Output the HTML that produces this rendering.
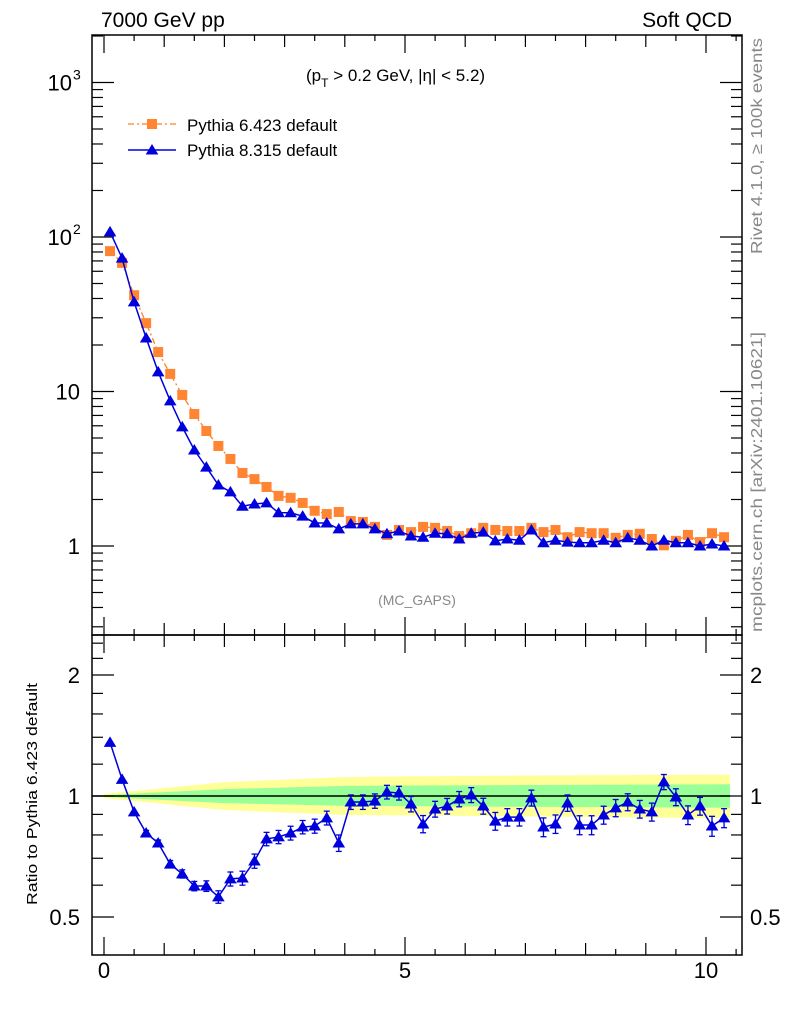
<!DOCTYPE html>
<html><head><meta charset="utf-8"><style>
body{margin:0;background:#fff}
svg{display:block;font-family:"Liberation Sans",sans-serif}
</style></head><body>
<svg id="c" width="786" height="1024" viewBox="0 0 786 1024"></svg>
<script>
const binCenters=[0.1,0.3,0.5,0.7,0.9,1.1,1.3,1.5,1.7,1.9,2.1,2.3,2.5,2.7,2.9,3.1,3.3,3.5,3.7,3.9,4.1,4.3,4.5,4.7,4.9,5.1,5.3,5.5,5.7,5.9,6.1,6.3,6.5,6.7,6.9,7.1,7.3,7.5,7.7,7.9,8.1,8.3,8.5,8.7,8.9,9.1,9.3,9.5,9.7,9.9,10.1,10.3];
const py6=[81,68,42,27.7,18.0,13.0,9.5,7.15,5.55,4.44,3.66,2.97,2.71,2.41,2.11,2.05,1.90,1.69,1.61,1.66,1.45,1.43,1.33,1.18,1.27,1.23,1.33,1.31,1.25,1.16,1.21,1.31,1.27,1.25,1.25,1.31,1.23,1.27,1.14,1.23,1.21,1.21,1.13,1.18,1.20,1.11,1.01,1.08,1.18,1.06,1.21,1.14];
const py8=[108,73,38,22.2,13.4,8.7,5.9,4.18,3.24,2.48,2.24,1.81,1.87,1.90,1.64,1.64,1.56,1.41,1.41,1.29,1.39,1.39,1.29,1.20,1.25,1.16,1.14,1.21,1.20,1.11,1.21,1.23,1.08,1.11,1.09,1.27,1.05,1.09,1.06,1.05,1.05,1.09,1.05,1.13,1.09,1.0,1.09,1.05,1.05,1.0,1.03,1.0];
const ratio8=[1.36,1.10,0.913,0.809,0.764,0.677,0.640,0.597,0.597,0.561,0.622,0.625,0.689,0.782,0.791,0.809,0.837,0.842,0.882,0.764,0.966,0.966,0.972,1.023,1.017,0.955,0.852,0.928,0.944,0.983,1.006,0.944,0.866,0.886,0.886,0.989,0.837,0.852,0.961,0.847,0.847,0.897,0.934,0.966,0.928,0.913,1.084,0.994,0.897,0.944,0.842,0.882];
const ratioErr=[0.01,0.01,0.012,0.012,0.013,0.014,0.015,0.016,0.018,0.02,0.025,0.025,0.028,0.03,0.03,0.032,0.032,0.034,0.035,0.036,0.04,0.04,0.04,0.04,0.04,0.042,0.042,0.042,0.042,0.043,0.043,0.043,0.044,0.044,0.044,0.045,0.045,0.045,0.045,0.046,0.046,0.046,0.046,0.047,0.047,0.047,0.047,0.048,0.048,0.048,0.048,0.048];
const bandX=[0,2,4,7,10.4];
const yellowHi=[1.012,1.083,1.115,1.125,1.13];
const yellowLo=[0.988,0.923,0.897,0.89,0.88];
const greenHi=[1.005,1.04,1.06,1.065,1.07];
const greenLo=[0.995,0.96,0.945,0.94,0.935];
const xTicks=[0,5,10];
const mainTicks=[{v:1000,t:"10",s:"3"},{v:100,t:"10",s:"2"},{v:10,t:"10",s:""},{v:1,t:"1",s:""}];
const ratioTicks=[2,1,0.5];

const NS="http://www.w3.org/2000/svg",svg=document.getElementById('c');
function el(tag,attrs,parent,text){const e=document.createElementNS(NS,tag);for(const k in attrs)e.setAttribute(k,attrs[k]);if(text!==undefined)e.textContent=text;(parent||svg).appendChild(e);return e;}
const L=92,R=742,T1=35,B1=635,B2=955;
const X=v=>104+(v)*60.2;
const Y1=v=>546-154.5*Math.log10(v);
const Y2=v=>796-121*Math.log2(v);

function band(hi,lo,fill,name){let d="M"+X(bandX[0])+","+Y2(hi[0]);for(let i=1;i<bandX.length;i++)d+="L"+X(bandX[i])+","+Y2(hi[i]);for(let i=bandX.length-1;i>=0;i--)d+="L"+X(bandX[i])+","+Y2(lo[i]);d+="Z";const p=el('path',{d:d,fill:fill});

}
band(yellowHi,yellowLo,'#ffff99','yellow-uncertainty-band');
band(greenHi,greenLo,'#99ff99','green-uncertainty-band');
const ref=el('line',{x1:X(-0.2),x2:X(10.4),y1:Y2(1),y2:Y2(1),stroke:'#000','stroke-width':1.5});



for(const [t,b,n] of [[T1,B1,'main-frame'],[B1,B2,'ratio-frame']]){const r=el('rect',{x:L,y:t,width:R-L,height:b-t,fill:'none',stroke:'#000','stroke-width':1.5});

}

for(const [t,b] of [[T1,B1],[B1,B2]]){for(let v=0;v<=10.5;v+=0.5){const maj=Number.isInteger(v);const len=(v%5===0)?18:(maj?12:6);el('line',{x1:X(v),x2:X(v),y1:b,y2:b-len,stroke:'#000','stroke-width':1.2});el('line',{x1:X(v),x2:X(v),y1:t,y2:t+len,stroke:'#000','stroke-width':1.2});}}
xTicks.forEach(v=>{const t=el('text',{x:X(v),y:978,'font-size':22,'text-anchor':'middle'},svg,String(v));

});

for(let d=-1;d<4;d++){for(let m=1;m<10;m++){const v=m*Math.pow(10,d);const y=Y1(v);if(y<T1||y>B1)continue;const len=m===1?22:11;el('line',{x1:L,x2:L+len,y1:y,y2:y,stroke:'#000','stroke-width':1.2});el('line',{x1:R,x2:R-len,y1:y,y2:y,stroke:'#000','stroke-width':1.2});}}
mainTicks.forEach(o=>{const t=el('text',{x:o.s?72:80,y:Y1(o.v)+8,'font-size':22,'text-anchor':'end'},svg,o.t);


if(o.s)el('text',{x:73,y:Y1(o.v)-3,'font-size':14},svg,o.s);});
[0.5,0.6,0.7,0.8,0.9,1,1.2,1.4,1.6,1.8,2,2.2,2.4].forEach(v=>{const y=Y2(v);const len=(v===0.5||v===1||v===2)?22:11;el('line',{x1:L,x2:L+len,y1:y,y2:y,stroke:'#000','stroke-width':1.2});el('line',{x1:R,x2:R-len,y1:y,y2:y,stroke:'#000','stroke-width':1.2});});
ratioTicks.forEach(v=>{const lab=v===0.5?'0.5':String(v);const t=el('text',{x:80,y:Y2(v)+8,'font-size':22,'text-anchor':'end'},svg,lab);


el('text',{x:750,y:Y2(v)+8,'font-size':22},svg,lab);});

function tri(x,y,s){return `M${x},${y-s}L${x+s*1.05},${y+s*0.75}L${x-s*1.05},${y+s*0.75}Z`;}
const g6=el('g',{});


el('polyline',{points:binCenters.map((x,i)=>X(x)+','+Y1(py6[i])).join(' '),fill:'none',stroke:'#ff7f2a','stroke-width':1.3,'stroke-dasharray':'6,3,2,3'},g6);
binCenters.forEach((x,i)=>{const r=el('rect',{x:X(x)-5,y:Y1(py6[i])-5,width:10,height:10,fill:'#ff8533'},g6);

});
const g8=el('g',{});


el('polyline',{points:binCenters.map((x,i)=>X(x)+','+Y1(py8[i])).join(' '),fill:'none',stroke:'#0000dd','stroke-width':1.5},g8);
binCenters.forEach((x,i)=>{const p=el('path',{d:tri(X(x),Y1(py8[i]),6),fill:'#0000dd'},g8);

});
const gr=el('g',{});


el('polyline',{points:binCenters.map((x,i)=>X(x)+','+Y2(ratio8[i])).join(' '),fill:'none',stroke:'#0000dd','stroke-width':1.5},gr);
binCenters.forEach((x,i)=>{const cx=X(x),y1=Y2(ratio8[i]+ratioErr[i]),y2=Y2(ratio8[i]-ratioErr[i]);
if(y2-y1>5){el('line',{x1:cx,x2:cx,y1:y1,y2:y2,stroke:'#0000dd','stroke-width':1.3},gr);el('line',{x1:cx-3,x2:cx+3,y1:y1,y2:y1,stroke:'#0000dd','stroke-width':1.3},gr);el('line',{x1:cx-3,x2:cx+3,y1:y2,y2:y2,stroke:'#0000dd','stroke-width':1.3},gr);}
const p=el('path',{d:tri(cx,Y2(ratio8[i]),6),fill:'#0000dd'},gr);

});

const lg=el('g',{});


el('line',{x1:128,x2:176,y1:124,y2:124,stroke:'#ff7f2a','stroke-width':1.3,'stroke-dasharray':'6,3,2,3'},lg);
el('rect',{x:147,y:119,width:10,height:10,fill:'#ff8533'},lg);
el('text',{x:187,y:131,'font-size':17},lg,'Pythia 6.423 default');
el('line',{x1:128,x2:176,y1:150,y2:150,stroke:'#0000dd','stroke-width':1.5},lg);
el('path',{d:tri(152,150,6),fill:'#0000dd'},lg);
el('text',{x:187,y:156,'font-size':17},lg,'Pythia 8.315 default');

function txt(a,s,n){const t=el('text',a,svg,s);

return t;}
txt({x:101,y:27,'font-size':21},'7000 GeV pp','energy-label');
txt({x:732,y:27,'font-size':21,'text-anchor':'end'},'Soft QCD','process-label');
const cut=txt({x:306,y:81,'font-size':17},'','cuts-label');
cut.innerHTML='(p<tspan font-size="12" dy="6">T</tspan><tspan dy="-6"> &gt; 0.2 GeV, |η| &lt; 5.2)</tspan>';
txt({x:417,y:605,'font-size':14,fill:'#888','text-anchor':'middle'},'(MC_GAPS)','analysis-label');
txt({x:0,y:0,'font-size':16,fill:'#888',textLength:216,lengthAdjust:'spacingAndGlyphs',transform:'translate(762,254) rotate(-90)'},'Rivet 4.1.0, ≥ 100k events','rivet-label');
txt({x:0,y:0,'font-size':16,fill:'#888',textLength:300,lengthAdjust:'spacingAndGlyphs',transform:'translate(762,632) rotate(-90)'},'mcplots.cern.ch [arXiv:2401.10621]','mcplots-label');
txt({x:0,y:0,'font-size':15,textLength:222,lengthAdjust:'spacingAndGlyphs',transform:'translate(37,905) rotate(-90)'},'Ratio to Pythia 6.423 default','ratio-y-axis-title');
</script>
</body></html>
